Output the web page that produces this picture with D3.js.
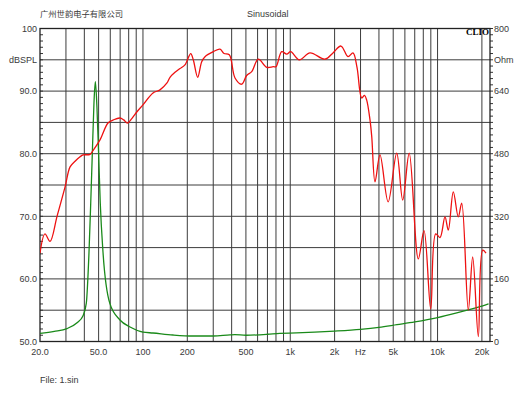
<!DOCTYPE html>
<html>
<head>
<meta charset="utf-8">
<script src="https://cdn.jsdelivr.net/npm/d3@7"></script>
<style>
  html, body { margin: 0; padding: 0; background: #fff; }
  svg { display: block; }
  text { font-family: "Liberation Sans", Arial, sans-serif; fill: #3a3a3a; }
</style>
</head>
<body>
<svg id="chart" width="530" height="398"></svg>
<script>
// ---- data ----
const splFreq = [20, 21.6, 23.4, 26.1, 29.6, 32, 34.6, 37.4, 39.2, 43.7, 45.8, 51.1, 57.9, 63, 69.8, 74, 78.5, 84, 91.1, 100, 117, 130.5, 145.6, 152.6, 165, 178.4, 192.8, 211, 219.6, 235.3, 250.5, 263.8, 300.4, 333.4, 355, 385.6, 421.6, 468.1, 506.1, 547.3, 606.8, 692, 767.2, 800.4, 875, 945.9, 1007, 1152, 1362, 1721, 1950, 2210, 2466, 2667, 2839, 3054, 3192, 3300, 3478, 3575, 3762, 4067, 4619, 5280, 5800, 6420, 7400, 8093, 8985, 9715, 10390, 11230, 11830, 12790, 13830, 14590, 16170, 17320, 18910, 20250, 21330];
const splDb = [64.1, 67.2, 66.0, 70.0, 74.7, 77.9, 78.8, 79.5, 79.8, 79.9, 80.5, 82.2, 84.9, 85.4, 85.7, 85.4, 84.9, 85.6, 86.7, 87.8, 89.7, 90.2, 91.3, 92.2, 93.0, 93.6, 94.2, 96.0, 95.0, 92.2, 94.7, 95.5, 96.3, 96.7, 96.0, 95.8, 92.1, 91.1, 92.5, 93.1, 95.1, 93.8, 93.9, 93.9, 96.3, 95.9, 96.3, 95.0, 96.1, 95.1, 96.1, 97.2, 95.5, 96.1, 93.8, 88.9, 89.3, 88.6, 85.4, 82.7, 75.5, 79.8, 72.3, 80.1, 72.6, 80.1, 63.2, 67.7, 55.2, 67.2, 66.6, 69.9, 67.8, 73.9, 69.9, 72.1, 55.0, 63.5, 50.8, 64.6, 64.1];

const impFreq = [20, 25, 30.5, 35.7, 39.2, 41.25, 43.0, 44.2, 45.3, 46.5, 47.5, 48.7, 50.0, 51.3, 53.6, 59.5, 69.8, 81.7, 100, 117, 160, 218, 300, 390, 420, 500, 700, 850, 1100, 2000, 3000, 4000, 5300, 7000, 10000, 13500, 16600, 21000, 22200];
const impOhm = [21, 26, 33, 48, 66, 98, 226, 354, 479, 610, 664, 600, 479, 354, 226, 98, 55, 37, 24, 21.7, 16.6, 14, 14, 17, 17.5, 16, 18.5, 21, 22, 26.5, 31, 36, 43, 50, 61, 73, 82, 93, 96];

const gridFreqs = [30, 40, 50, 60, 70, 80, 90, 100, 200, 300, 400, 500, 600, 700, 800, 900, 1000, 2000, 3000, 4000, 5000, 6000, 7000, 8000, 9000, 10000, 20000];
const xTickVals = [20, 50, 100, 200, 500, 1000, 2000, 3000, 5000, 10000, 20000];
const xTickLabels = ["20.0", "50.0", "100", "200", "500", "1k", "2k", "Hz", "5k", "10k", "20k"];
const yTickVals = [100, 95, 90, 80, 70, 60, 50];
const yTickLabels = ["100", "dBSPL", "90.0", "80.0", "70.0", "60.0", "50.0"];
const rTickVals = [800, 720, 640, 480, 320, 160, 0];
const rTickLabels = ["800", "Ohm", "640", "480", "320", "160", "0"];

// ---- layout ----
const L = 40, R = 490, T = 28.5, B = 341.5;
const svg = d3.select("#chart");
const x = d3.scaleLog().domain([20, 22700]).range([L, R]);
const y = d3.scaleLinear().domain([50, 100]).range([B, T]);
const yr = d3.scaleLinear().domain([0, 800]).range([B, T]);

svg.append("defs").append("clipPath").attr("id", "clip")
  .append("rect").attr("x", L).attr("y", T).attr("width", R - L).attr("height", B - T);

// grid
const grid = svg.append("g");
grid.selectAll("line.v").data(gridFreqs).enter().append("line")
  .attr("x1", d => x(d)).attr("x2", d => x(d)).attr("y1", T).attr("y2", B)
  .attr("stroke", "#3c3c3c").attr("stroke-width", 1);
grid.selectAll("line.h").data(d3.range(55, 100, 5)).enter().append("line")
  .attr("x1", L).attr("x2", R).attr("y1", d => y(d)).attr("y2", d => y(d))
  .attr("stroke", "#3c3c3c").attr("stroke-width", 1);

// minor ticks
svg.append("g").selectAll("line").data(d3.range(50, 101, 1)).enter().append("line")
  .attr("x1", L).attr("x2", L + 3).attr("y1", d => y(d)).attr("y2", d => y(d))
  .attr("stroke", "#333").attr("stroke-width", 1);
svg.append("g").selectAll("line").data(d3.range(50, 101, 1)).enter().append("line")
  .attr("x1", R).attr("x2", R + 3).attr("y1", d => y(d)).attr("y2", d => y(d))
  .attr("stroke", "#333").attr("stroke-width", 1);

// frame
svg.append("rect").attr("x", L).attr("y", T).attr("width", R - L).attr("height", B - T)
  .attr("fill", "none").attr("stroke", "#222").attr("stroke-width", 1.3);

// curves
const plot = svg.append("g").attr("clip-path", "url(#clip)");
const splData = splFreq.map((f, i) => [f, splDb[i]]);
const impData = impFreq.map((f, i) => [f, impOhm[i]]);

plot.append("path").datum(impData)
  .attr("d", d3.line().x(d => x(d[0])).y(d => yr(d[1])).curve(d3.curveMonotoneX))
  .attr("fill", "none").attr("stroke", "#1a8a1a").attr("stroke-width", 1.3);

plot.append("path").datum(splData)
  .attr("d", d3.line().x(d => x(d[0])).y(d => y(d[1])).curve(d3.curveCatmullRom.alpha(0.5)))
  .attr("fill", "none").attr("stroke", "#ee1111").attr("stroke-width", 1.3);

// axis labels
svg.append("g").selectAll("text").data(xTickVals).enter().append("text")
  .attr("x", d => x(d)).attr("y", 355).attr("text-anchor", "middle")
  .attr("font-size", 9).text((d, i) => xTickLabels[i]);
svg.append("g").selectAll("text").data(yTickVals).enter().append("text")
  .attr("x", 37).attr("y", d => y(d) + 3.2).attr("text-anchor", "end")
  .attr("font-size", 9).text((d, i) => yTickLabels[i]);
svg.append("g").selectAll("text").data(rTickVals).enter().append("text")
  .attr("x", 494).attr("y", d => yr(d) + 3.2).attr("text-anchor", "start")
  .attr("font-size", 9).text((d, i) => rTickLabels[i]);

// titles
svg.append("text").attr("x", 40).attr("y", 17).attr("font-size", 8.3)
  .style("font-family", "'Noto Sans CJK SC', sans-serif").text("广州世韵电子有限公司");
svg.append("text").attr("x", 247).attr("y", 17).attr("font-size", 9).text("Sinusoidal");
svg.append("text").attr("x", 489).attr("y", 35).attr("text-anchor", "end")
  .attr("font-size", 9).attr("font-weight", "bold")
  .style("font-family", "'Liberation Serif', 'DejaVu Serif', serif").style("fill", "#000").text("CLIO");
svg.append("text").attr("x", 40).attr("y", 383).attr("font-size", 9).text("File: 1.sin");
</script>
</body>
</html>
